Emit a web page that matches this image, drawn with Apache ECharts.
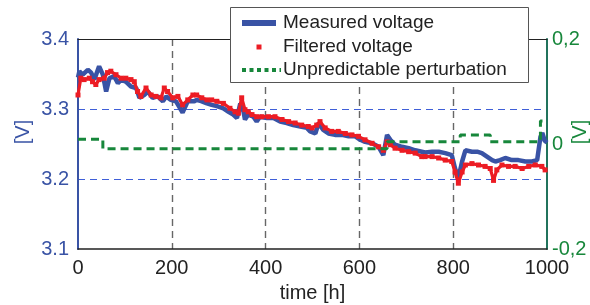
<!DOCTYPE html>
<html>
<head>
<meta charset="utf-8">
<script src="https://cdn.jsdelivr.net/npm/echarts@6/dist/echarts.min.js"></script>
<style>
html,body{margin:0;padding:0;background:#fff;}
#chart{width:590px;height:305px;}
</style>
</head>
<body>
<div id="chart"></div>
<script>
// ---- data ----
const measuredTime = [0,3,10,21,28,35,45,53,60,67,77,85,92,102,113,124,131,141,149,159,170,181,188,198,209,223,234,248,253,264,275,285,296,310,321,331,339,346,353,356,363,374,381,388,403,417,431,445,459,474,488,495,506,513,523,534,548,563,577,591,602,612,627,641,651,659,666,676,691,705,719,733,740,755,769,783,797,804,811,819,826,840,851,861,872,883,890,900,911,925,939,954,968,979,983,986,990,995,1000];
const measuredVolt = [3.345,3.354,3.349,3.356,3.352,3.342,3.361,3.349,3.325,3.344,3.347,3.337,3.342,3.339,3.332,3.330,3.316,3.320,3.325,3.316,3.318,3.311,3.318,3.313,3.311,3.295,3.311,3.311,3.313,3.311,3.308,3.306,3.304,3.301,3.296,3.292,3.287,3.308,3.296,3.285,3.292,3.289,3.282,3.289,3.287,3.287,3.282,3.280,3.277,3.275,3.273,3.268,3.265,3.280,3.270,3.265,3.263,3.263,3.261,3.261,3.256,3.253,3.251,3.246,3.234,3.263,3.256,3.249,3.246,3.244,3.241,3.239,3.238,3.239,3.239,3.237,3.234,3.215,3.201,3.225,3.241,3.239,3.239,3.237,3.232,3.227,3.225,3.227,3.230,3.227,3.227,3.225,3.225,3.227,3.226,3.260,3.266,3.255,3.252];

const filteredTime = [0,6,13,24,31,38,45,56,63,70,81,92,102,113,120,127,134,145,156,166,177,184,191,202,213,223,234,245,253,264,275,285,296,310,324,335,342,349,356,363,371,381,392,406,420,435,449,463,477,491,499,509,516,527,541,555,570,584,598,612,627,641,651,659,666,676,691,705,719,733,740,755,769,783,797,804,811,819,826,840,854,868,879,886,893,904,918,932,947,961,975,989,996];
const filteredVolt = [3.320,3.344,3.342,3.344,3.339,3.335,3.342,3.344,3.352,3.354,3.349,3.344,3.344,3.342,3.339,3.325,3.318,3.330,3.320,3.318,3.316,3.330,3.325,3.316,3.318,3.306,3.313,3.320,3.320,3.316,3.313,3.313,3.311,3.308,3.301,3.296,3.294,3.316,3.299,3.296,3.292,3.289,3.289,3.289,3.289,3.285,3.282,3.280,3.277,3.275,3.273,3.277,3.282,3.273,3.268,3.268,3.265,3.263,3.261,3.256,3.251,3.246,3.241,3.253,3.249,3.244,3.241,3.239,3.237,3.232,3.232,3.232,3.230,3.227,3.225,3.210,3.194,3.210,3.220,3.222,3.220,3.218,3.215,3.198,3.213,3.220,3.218,3.218,3.215,3.218,3.220,3.218,3.213];

const perturbTime = [0,53,659,815,879,986,1000];
const perturbValue = [0.009,-0.009,0.0044,0.017,0.0044,0.044,0.044];

const xTicks = [0,200,400,600,800,1000];
const leftTicks = [3.1,3.2,3.3,3.4];
const rightTicks = [-0.2,0,0.2];

const legendNames = ['Measured voltage','Filtered voltage','Unpredictable perturbation'];

// ---- colours ----
const BLUE = '#3953a5';
const RED = '#ec1c24';
const GREEN = '#17873b';
const GRIDBLUE = '#3f5fd8';
const FONT = 'Liberation Sans, Arial, sans-serif';

const zip = (a, b) => a.map((v, i) => [v, b[i]]);

const chart = echarts.init(document.getElementById('chart'), null, {renderer: 'canvas'});
chart.setOption({
  animation: false,
  backgroundColor: '#fff',
  grid: {left: 78, right: 43, top: 39, bottom: 56, containLabel: false, outerBoundsMode: 'none'},
  xAxis: [{
    type: 'value', min: xTicks[0], max: xTicks[xTicks.length - 1], interval: 200,
    position: 'bottom',
    name: 'time [h]', nameLocation: 'middle', nameGap: 34, nameMoveOverlap: false,
    nameTextStyle: {fontFamily: FONT, fontSize: 20, color: '#222'},
    axisLine: {onZero: false, lineStyle: {color: '#222', width: 1.6}},
    axisTick: {show: false},
    axisLabel: {fontFamily: FONT, fontSize: 20, color: '#222', margin: 9,
      formatter: v => String(v)},
    splitLine: {show: true, showMinLine: false, showMaxLine: false,
      lineStyle: {color: '#666', width: 1.4, type: [7, 5]}}
  }, {
    type: 'value', min: 0, max: 1000, position: 'top',
    axisLine: {show: true, onZero: false, lineStyle: {color: '#222', width: 1.2}},
    axisTick: {show: false}, axisLabel: {show: false}, splitLine: {show: false}
  }],
  yAxis: [{
    type: 'value', min: leftTicks[0], max: leftTicks[leftTicks.length - 1], interval: 0.1,
    position: 'left',
    name: '[V]', nameLocation: 'middle', nameGap: 45, nameRotate: 90, nameMoveOverlap: false,
    nameTextStyle: {fontFamily: FONT, fontSize: 20, color: BLUE, padding: [0, 0, 0, 24]},
    axisLine: {show: true, onZero: false, lineStyle: {color: BLUE, width: 2}},
    axisTick: {show: false},
    axisLabel: {fontFamily: FONT, fontSize: 20, color: BLUE, margin: 9,
      formatter: v => v.toFixed(1)},
    splitLine: {show: true, showMinLine: false, showMaxLine: false,
      lineStyle: {color: [GRIDBLUE], width: 1.1, type: [7, 5]}}
  }, {
    type: 'value', min: rightTicks[0], max: rightTicks[rightTicks.length - 1], interval: 0.2,
    position: 'right',
    name: '[V]', nameLocation: 'middle', nameGap: 23, nameRotate: 90, nameMoveOverlap: false,
    nameTextStyle: {fontFamily: FONT, fontSize: 20, color: GREEN, padding: [0, 0, 0, 24]},
    axisLine: {show: true, onZero: false, lineStyle: {color: '#21735c', width: 2}},
    axisTick: {show: false},
    axisLabel: {fontFamily: FONT, fontSize: 20, color: GREEN, margin: 5,
      formatter: v => (Math.abs(v) < 1e-9 ? '0' : v.toFixed(1).replace('.', ','))},
    splitLine: {show: false}
  }],
  series: [{
    name: legendNames[0], type: 'line', xAxisIndex: 0, yAxisIndex: 0,
    data: zip(measuredTime, measuredVolt),
    symbol: 'none', lineStyle: {color: BLUE, width: 4.5}, z: 2
  }, {
    name: legendNames[1], type: 'line', xAxisIndex: 0, yAxisIndex: 0,
    data: zip(filteredTime, filteredVolt),
    symbol: 'rect', symbolSize: 5, showAllSymbol: true,
    itemStyle: {color: RED}, lineStyle: {color: RED, width: 3.2}, z: 3
  }, {
    name: legendNames[2], type: 'line', xAxisIndex: 0, yAxisIndex: 1,
    data: zip(perturbTime, perturbValue), step: 'end',
    symbol: 'none', lineStyle: {color: GREEN, width: 3, type: [8, 5]}, z: 4
  }],
  graphic: [
    {type: 'rect', shape: {x: 230.5, y: 7.5, width: 298, height: 75}, z: 100,
      style: {fill: '#fff', stroke: '#555', lineWidth: 1}},
    {type: 'line', shape: {x1: 242, y1: 23, x2: 276, y2: 23}, z: 101,
      style: {stroke: BLUE, lineWidth: 6}},
    {type: 'rect', shape: {x: 256.5, y: 44.5, width: 5, height: 5}, z: 101,
      style: {fill: RED}},
    {type: 'line', shape: {x1: 242, y1: 70, x2: 281, y2: 70}, z: 101,
      style: {stroke: GREEN, lineWidth: 4, lineDash: [4, 3.5]}},
    {type: 'text', x: 283, y: 23, z: 101,
      style: {text: legendNames[0], font: '19px ' + FONT, fill: '#222', verticalAlign: 'middle'}},
    {type: 'text', x: 283, y: 47, z: 101,
      style: {text: legendNames[1], font: '19px ' + FONT, fill: '#222', verticalAlign: 'middle'}},
    {type: 'text', x: 283, y: 70, z: 101,
      style: {text: legendNames[2], font: '19px ' + FONT, fill: '#222', verticalAlign: 'middle'}}
  ]
});
</script>
</body>
</html>
